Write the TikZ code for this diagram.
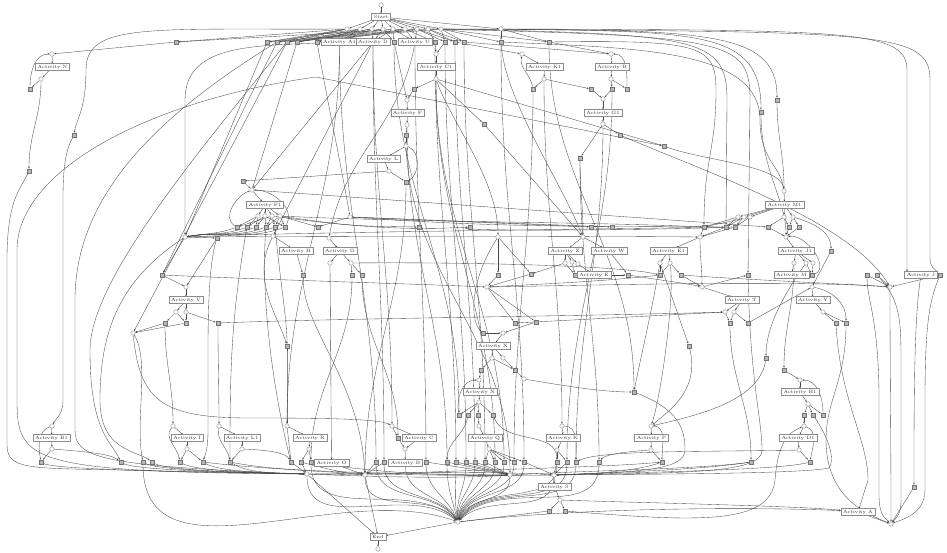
\documentclass[tikz,border=0pt]{standalone}
\usetikzlibrary{arrows.meta}
\pgfdeclarelayer{bg}
\pgfsetlayers{bg,main}
\begin{document}
\begin{tikzpicture}[x=1pt,y=-1pt,
  pl/.style={circle,draw=black!55,fill=white,line width=0.3pt,minimum size=4.4pt,inner sep=0pt},
  si/.style={rectangle,draw=black!55,fill=black!28,line width=0.3pt,minimum size=4.4pt,inner sep=0pt},
  ac/.style={rectangle,draw=black!45,fill=white,line width=0.25pt,text=black!80,font=\fontsize{4.7}{5}\selectfont,inner xsep=2.3pt,inner ysep=0.8pt,minimum height=6.8pt},
  e/.style={draw=black!72,line width=0.34pt,-{Stealth[length=2pt,width=1.6pt]}},
  dn/.style={e,out=-90,in=90},
]
\useasboundingbox (0,0) rectangle (947,552);
% ---------------- nodes: top
\node[pl] (src) at (381,5) {};
\node[ac] (start) at (381,17) {Start};
\foreach \n/\x in {q1/347,q2/360,q3/372,q4/383,q5/393,q6/405,q7/417,q8/428,q9/441}
  \node[pl] (\n) at (\x,29) {};
\node[pl] (qr) at (501,29) {};
\foreach \n/\x in {ta1/176,ta2/267,ta3/277,ta4/287,ta5/297,ta6/317,ta7/394,ta8/435,ta9/445,ta10/455,ta11/464,ta12/501,ta13/549}
  \node[si] (\n) at (\x,42) {};
\node[ac] (A1) at (339.5,42) {Activity A1};
\node[ac] (D) at (373,42) {Activity D};
\node[ac] (U) at (415,42) {Activity U};
% N
\node[pl] (pN) at (52,54) {};
\node[ac] (N) at (52.5,67) {Activity N};
\node[pl] (pN2) at (41,79) {};
\node[si] (sN1) at (30,89) {};
\node[si] (sN2) at (29,171) {};
\node[si] (sL1) at (74,135) {};
% C1 chain
\node[pl] (pC1) at (436,54) {};
\node[ac] (C1) at (436,67) {Activity C1};
\node[pl] (pC1b) at (436,79) {};
\node[si] (sC1a) at (414,89) {};
\node[pl] (pF) at (407,100) {};
\node[ac] (F) at (407.5,113) {Activity F};
\node[pl] (pF2) at (407,125) {};
\node[si] (sF) at (406,135) {};
\node[pl] (pL) at (406,146) {};
\node[ac] (L) at (383.5,159) {Activity L};
\node[pl] (pL2) at (389,171) {};
\node[si] (sL) at (406,182) {};
\node[si] (sC1b) at (484,124) {};
% K1, B, G1
\node[pl] (pK1) at (522,54) {};
\node[ac] (K1) at (544.5,67) {Activity K1};
\node[pl] (pK1b) at (544,79) {};
\node[si] (sK1a) at (533,89) {};
\node[si] (sK1b) at (591,89) {};
\node[pl] (pB) at (611,54) {};
\node[ac] (B) at (612,67) {Activity B};
\node[pl] (pB2) at (611,79) {};
\node[si] (sBa) at (612,89) {};
\node[si] (sBb) at (627,89) {};
\node[pl] (pG1) at (603,99) {};
\node[ac] (G1) at (603,113) {Activity G1};
\node[pl] (pG1b) at (603,124) {};
\node[si] (sG1) at (620,135) {};
\node[si] (sG1b) at (580,158) {};
\node[si] (sR1) at (664,146) {};
\node[si] (sR2) at (761,112) {};
\node[si] (sR3) at (777,100) {};
\node[si] (sX1) at (243,181) {};
% F1
\node[pl] (pF1) at (252,190) {};
\node[ac] (F1) at (265,205) {Activity F1};
\foreach \n/\x in {pF1a/258,pF1b/265,pF1c/272,pF1d/280} \node[pl] (\n) at (\x,216) {};
\foreach \n/\x in {sf1/237,sf2/247,sf3/256,sf4/266,sf5/275,sf6/285} \node[si] (\n) at (\x,227) {};
\node[pl] (hA) at (185,237) {};
\node[si] (sV0) at (217,238) {};
\node[si] (sV1) at (162,275) {};
\node[pl] (pV) at (186,287) {};
\node[ac] (V) at (186,300) {Activity V};
\node[pl] (pVa) at (176,312) {};
\node[pl] (pVb) at (186,312) {};
\node[si] (sVa) at (165,323) {};
\node[si] (sVb) at (186,323) {};
\node[si] (sVc) at (218,323) {};
\node[pl] (hB) at (133,333) {};
\node[si] (sH2) at (287,346) {};
\node[pl] (pH) at (273,236) {};
\node[ac] (H) at (296,251) {Activity H};
\node[si] (sH) at (303,275) {};
% G, Z, X
\node[pl] (pG) at (329,238) {};
\node[ac] (G) at (340,251) {Activity G};
\node[pl] (pGa) at (330,263) {};
\node[pl] (pGb) at (351,263) {};
\node[si] (sGa) at (352,275) {};
\node[si] (sGb) at (362,275) {};
\node[pl] (hN) at (350,217) {};
\node[si] (sM0) at (318,227) {};
\node[si] (sM1) at (419,227) {};
\node[si] (sM2) at (470,227) {};
\node[si] (sM3) at (591,227) {};
\node[si] (sM4) at (612,227) {};
\node[pl] (hL) at (498,237) {};
\node[pl] (pZ) at (583,237) {};
\node[ac] (Z) at (565,251) {Activity Z};
\node[ac] (W) at (609,251) {Activity W};
\node[pl] (pZa) at (565,263) {};
\node[pl] (pZb) at (572,262) {};
\node[pl] (pZc) at (578,264) {};
\node[si] (sZ) at (575,275) {};
\node[ac] (E) at (594,275) {Activity E};
\node[si] (sM5) at (498,275) {};
\node[si] (sM6) at (531,274) {};
\node[si] (sM7) at (628,275) {};
\node[pl] (hJ) at (487,287) {};
\node[si] (sM8) at (515,323) {};
\node[si] (sM9) at (536,322) {};
\node[si] (sX0) at (483,333) {};
\node[pl] (pX) at (503,333) {};
\node[ac] (X) at (493,346) {Activity X};
\node[pl] (pXa) at (492,358) {};
\node[pl] (pXb) at (503,358) {};
% right middle
\node[pl] (pM1) at (784,191) {};
\node[ac] (M1) at (784.5,205) {Activity M1};
\foreach \n/\x in {pMa/738,pMb/744,pMc/750,pMd/784,pMe/793} \node[pl] (\n) at (\x,217) {};
\foreach \n/\x in {sMa/704,sMb/726,sMc/735,sMd/768,sMe/789,sMf/799} \node[si] (\n) at (\x,227) {};
\node[pl] (pJ1) at (786,237) {};
\node[ac] (J1) at (796,251) {Activity J1};
\node[pl] (pJ1a) at (794,263) {};
\node[pl] (pJ1b) at (806,263) {};
\node[pl] (pJ1c) at (813,263) {};
\node[si] (sJ1) at (812,275) {};
\node[ac] (M) at (791.5,275) {Activity M};
\node[pl] (hM) at (700,237) {};
\node[si] (sR4) at (831,251) {};
\node[ac] (E1) at (668.5,251) {Activity E1};
\node[pl] (pE1a) at (660,263) {};
\node[pl] (pE1b) at (670,263) {};
\node[si] (sE1a) at (660,275) {};
\node[si] (sE1b) at (681,275) {};
\node[pl] (hI) at (702,287) {};
\node[si] (sR5) at (748,275) {};
\node[si] (sR6) at (867,275) {};
\node[si] (sR7) at (877,275) {};
\node[ac] (J) at (921,275) {Activity J};
\node[si] (sR8) at (940,275) {};
\node[pl] (hK) at (890,287) {};
\node[pl] (pY) at (812,287) {};
\node[ac] (Y) at (813,300) {Activity Y};
\node[pl] (pYa) at (823,312) {};
\node[si] (sYa) at (836,323) {};
\node[si] (sYb) at (846,323) {};
\node[ac] (T) at (742,300) {Activity T};
\node[pl] (pTa) at (725,312) {};
\node[pl] (pTb) at (734,312) {};
\node[si] (sTa) at (730,323) {};
\node[si] (sTb) at (748,323) {};
\node[si] (sR9) at (689,346) {};
\node[si] (sR10) at (766,358) {};
% lower middle
\node[si] (sXa) at (481,370) {};
\node[si] (sXb) at (515,370) {};
\node[pl] (pXc) at (524,379) {};
\node[pl] (pNn) at (479,380) {};
\node[ac] (Nn) at (480,392) {Activity N};
\node[pl] (pNn2) at (479,402) {};
\foreach \n/\x in {sNa/459,sNb/468,sNc/478,sNd/493} \node[si] (\n) at (\x,415) {};
\node[pl] (pQ) at (479,426) {};
\node[ac] (Q) at (485,438) {Activity Q};
\node[pl] (pQ2) at (489,449) {};
\node[pl] (pK) at (562,426) {};
\node[ac] (K) at (563,438) {Activity K};
\node[pl] (pK2) at (557,450) {};
\node[pl] (pC) at (392,426) {};
\node[si] (sC) at (398,438) {};
\node[ac] (C) at (419,438) {Activity C};
\node[pl] (pC2) at (405,449) {};
\node[ac] (Bb) at (405.5,463) {Activity B};
\node[ac] (O) at (331.5,463) {Activity O};
% bottom left
\node[pl] (pB1) at (52,426) {};
\node[ac] (B1) at (51.5,438) {Activity B1};
\node[pl] (pB1b) at (52,449) {};
\node[si] (sB1) at (41,462) {};
\node[si] (sLw1) at (121,462) {};
\node[si] (sLw2) at (143,462) {};
\node[si] (sLw3) at (152,462) {};
\node[pl] (pI) at (173,426) {};
\node[ac] (I) at (187,438) {Activity I};
\node[pl] (pI2) at (187,449) {};
\node[si] (sIa) at (180,462) {};
\node[si] (sIb) at (203,462) {};
\node[pl] (pL1) at (219,426) {};
\node[ac] (L1) at (242,438) {Activity L1};
\node[pl] (pL1b) at (242,449) {};
\node[si] (sL1a) at (230,462) {};
\node[pl] (pR) at (287,426) {};
\node[ac] (R) at (310,438) {Activity R};
\node[pl] (pR2) at (309,449) {};
\node[si] (sRa) at (291,462) {};
\node[si] (sRb) at (301,462) {};
\node[si] (sRc) at (311,462) {};
\node[pl] (hC) at (307,474) {};
\foreach \n/\x in {sb1/376,sb2/384,sb3/426,sb4/447,sb5/456,sb6/466,sb7/475,sb8/485,sb9/495,sb10/504,sb11/514,sb12/524,sb13/557,sb14/567,sb15/576,sb16/599}
  \node[si] (\n) at (\x,462) {};
\node[pl] (hD) at (365,475) {};
\node[pl] (hE) at (510,475) {};
\node[pl] (hF) at (554,475) {};
\node[ac] (S) at (554.5,487) {Activity S};
\node[pl] (pS) at (560,500) {};
\node[si] (sSa) at (549,511) {};
\node[si] (sSb) at (565,511) {};
\node[pl] (hG) at (458,522) {};
\node[ac] (End) at (378,537) {End};
\node[pl] (sink) at (378,549) {};
% right bottom
\node[si] (sR11) at (784,370) {};
\node[pl] (pH1) at (800,380) {};
\node[ac] (H1) at (800,392) {Activity H1};
\node[pl] (pH1b) at (808,404) {};
\node[si] (sH1a) at (804,415) {};
\node[si] (sH1b) at (813,415) {};
\node[si] (sH1c) at (823,415) {};
\node[pl] (pD1) at (804,426) {};
\node[ac] (D1) at (798,438) {Activity D1};
\node[pl] (pD1b) at (799,450) {};
\node[si] (sD1) at (810,462) {};
\node[si] (sR12) at (634,392) {};
\node[pl] (pP) at (651,426) {};
\node[ac] (P) at (651.5,438) {Activity P};
\node[pl] (pP2) at (651,450) {};
\node[si] (sP) at (662,462) {};
\node[si] (sR13) at (751,462) {};
\node[si] (sR14) at (914,487) {};
\node[ac] (Aa) at (858,512) {Activity A};
\node[pl] (hH) at (891,524) {};

\begin{pgfonlayer}{bg}
% ---------- top fan
\draw[e] (src) -- (start);
\foreach \t in {q1,q2,q3,q4,q5,q6,q7,q8,q9,qr} \draw[e] (start) -- (\t);
\foreach \a/\b in {q1/ta1,q1/ta2,q1/ta3,q1/ta4,q2/ta2,q2/ta5,q2/A1,q2/ta6,q3/ta3,q3/A1,q3/D,q4/D,q4/ta4,q4/ta7,q5/D,q5/ta7,q5/ta5,q5/U,q6/U,q6/ta6,q6/ta8,q7/U,q7/ta9,q7/ta10,q7/ta2,q8/ta10,q8/ta11,q8/ta3,q8/ta8,q9/ta11,q9/ta12,q9/ta13,q9/ta4,q9/ta9,qr/ta12,qr/ta13,q6/ta1,q4/ta5,q3/ta5,q7/ta6}
  \draw[e] (\a) -- (\b);
% long top-right lines
\draw[e] (q9) .. controls (700,30) and (777,28) .. (sR3);
\draw[e] (qr) .. controls (700,32) and (761,30) .. (sR2);
\draw[e] (qr) .. controls (850,30) and (907,30) .. (907,70) -- ([xshift=-14pt]J.north);
\draw[e] (q8) .. controls (880,32) and (930,30) .. (930,80) -- (930,258) .. controls (930,268) and (936,270) .. (sR8);
\draw[e] (ta13) .. controls (700,40) and (716,45) .. (716,90) .. controls (716,150) and (704,160) .. (sMa);
\draw[e] (q9) .. controls (700,34) and (727,38) .. (727,100) -- (sMb);
\draw[e] (q8) .. controls (730,36) and (750,40) .. (750,100) -- (sR5);
\draw[e] (ta12) .. controls (640,48) and (760,50) .. (760,120) .. controls (760,160) and (780,165) .. (pM1);
% ---------- N block and far left
\draw[e] (ta1) -- (pN);
\draw[e] (pN) -- (N);
\draw[e] (N) -- (pN2);
\draw[e] (pN2) -- (sN1);
\draw[e] (sN1) to[out=90,in=180] (pN);
\draw[e] (pN2) to[out=-90,in=90] (sN2);
\draw[e] (sN2) .. controls (20,190) and (7,200) .. (7,260) -- (7,445) .. controls (7,470) and (30,468) .. (120,470) -- (hC);
\draw[e] (q1) .. controls (150,30) and (86,22) .. (86,70) .. controls (86,110) and (76,120) .. (sL1);
\draw[e] (sL1) .. controls (66,150) and (63,165) .. (63,200) -- (63,400) .. controls (63,415) and (56,418) .. (pB1);
\draw[e] (hC) .. controls (30,472) and (17,462) .. (17,400) -- (17,250) .. controls (17,170) and (150,100) .. (316,77) -- (sR1);
\draw[e] (ta3) .. controls (150,120) and (75,200) .. (75,300) -- (75,430) .. controls (75,458) and (100,466) .. (hC);
\draw[e] (A1) .. controls (250,46) and (185,45) .. (185,100) -- (hA);
% ---------- top rows to mid
\draw[e] (ta2) -- (hA);
\draw[e] (ta3) -- (sV1);
\draw[e] (ta4) -- (hB);
\draw[e] (ta4) .. controls (200,150) and (90,280) .. (90,350) .. controls (90,430) and (110,440) .. (sLw1);
\draw[e] (ta5) -- (pF1);
\draw[e] (D) -- (pF1);
\draw[e] (D) -- (pH);
\draw[e] (ta6) to[out=-80,in=100] (hN);
\draw[e] (U) to[out=-100,in=80] (pG);
\draw[e] (ta7) -- (pF);
\draw[e] (ta8) -- (pC1);
\draw[e] (ta9) -- (pC1);
\draw[e] (ta10) -- (pK1);
\draw[e] (ta11) -- (pB);
\draw[e] (ta13) -- (pB);
\draw[e] (ta12) .. controls (505,100) and (560,180) .. (pZ);
% ---------- C1 chain
\draw[e] (pC1) -- (C1);
\draw[e] (C1) -- (pC1b);
\draw[e] (pC1b) -- (sC1a);
\draw[e] (sC1a) -- (pF);
\draw[e] (pF) -- (F);
\draw[e] (F) -- (pF2);
\draw[e] (pF2) -- (sF);
\draw[e] (sF) -- (pL);
\draw[e] (pL) -- (L);
\draw[e] (L) -- (pL2);
\draw[e] (pL2) -- (sL);
\draw[e] (pL) to[out=-20,in=30] (sL);
\draw[e] (pL2) -- (sX1);
\draw[e] (sX1) -- (pF1);
\draw[e] (pC1b) -- (sC1b);
\draw[e] (sC1b) -- (pZ);
\draw[e] (pC1b) -- (sR1);
\draw[e] (pC1b) .. controls (450,120) and (498,180) .. (hL);
\draw[e] (sR1) .. controls (700,160) and (780,165) .. (pM1);
\draw[e] (sR3) to[out=-90,in=90] (pM1);
\draw[e] (sR2) .. controls (761,170) and (786,200) .. (pJ1);
% ---------- K1, B, G1
\draw[e] (pK1) -- (K1);
\draw[e] (K1) -- (pK1b);
\draw[e] (pK1b) -- (sK1a);
\draw[e] (pK1b) -- (sK1b);
\draw[e] (sK1a) to[out=100,in=-100] (pK1);
\draw[e] (sK1b) -- (pG1);
\draw[e] (pB) -- (B);
\draw[e] (B) -- (pB2);
\draw[e] (pB2) -- (sBa);
\draw[e] (pB2) -- (sBb);
\draw[e] (sBb) to[out=90,in=0] (pB);
\draw[e] (sBa) -- (pG1);
\draw[e] (pG1) -- (G1);
\draw[e] (G1) -- (pG1b);
\draw[e] (pG1b) -- (sG1);
\draw[e] (pG1b) -- (sG1b);
\draw[e] (sG1) .. controls (700,170) and (850,220) .. (hK);
\draw[e] (sG1b) to[out=-90,in=90] (pZ);
% ---------- long verticals top -> bottom
\draw[dn] (A1) to (pR);
\draw[dn] (A1) to (sb1);
\draw[dn] (D) to (sb2);
\draw[dn] (D) to (pC);
\draw[dn] (U) to (sb3);
\draw[dn] (pF2) to (sb4);
\draw[dn] (ta8) to (sb5);
\draw[dn] (ta9) to (sb6);
\draw[dn] (ta10) to (sb7);
\draw[dn] (ta11) to (sb8);
\draw[dn] (pC1b) to (sb9);
\draw[dn] (pC1b) to (sb10);
\draw[dn] (sK1a) to (sb11);
\draw[dn] (ta12) to (sb12);
\draw[dn] (pK1b) to (pK);
\draw[dn] (sBa) to (sb14);
\draw[dn] (pG1b) to (sb15);
\draw[dn] (sG1b) to (sb16);
\draw[dn] (ta13) to (sR12);
\draw[dn] (sL) to (hD);
\draw[dn] (sF) to (hE);
\draw[dn] (ta7) to (sNa);
% ---------- F1
\draw[e] (pF1) -- (F1);
\foreach \t in {pF1a,pF1b,pF1c,pF1d} \draw[e] (F1) -- (\t);
\foreach \a/\b in {pF1a/sf1,pF1a/sf2,pF1a/sf3,pF1b/sf2,pF1b/sf3,pF1b/sf4,pF1c/sf4,pF1c/sf5,pF1c/sf1,pF1d/sf5,pF1d/sf6,pF1d/sf4,pF1b/sf6}
  \draw[e] (\a) -- (\b);
\foreach \s in {sf1,sf2,sf3,sf4,sf5,sf6} \draw[e] (\s) to[out=200,in=10] (hA);
\draw[e] (sf1) to[out=150,in=200] (pF1);
\draw[e] (sf6) to[out=60,in=0] (pF1);
\draw[e] (pF1d) .. controls (400,222) and (600,222) .. (sMa);
\draw[e] (pF1d) .. controls (350,226) .. (sM1);
\draw[e] (pF1c) .. controls (380,231) and (430,229) .. (sM2);
\draw[e] (hN) -- (sM3);
\draw[e] (hN) -- (sM4);
\draw[e] (hN) -- (sM0);
\draw[e] (pF1d) -- (sM0);
\draw[e] (hA) .. controls (300,232) and (550,230) .. (sMb);
\draw[e] (hA) .. controls (300,236) and (600,236) .. (hM);
\draw[e] (pF1) -- (sMd);
\draw[e] (sf2) to[out=-100,in=90] (sL1a);
\draw[e] (sf4) .. controls (260,300) and (275,400) .. (sRa);
\draw[e] (sf5) .. controls (280,280) and (287,320) .. (sH2);
% ---------- V
\draw[e] (hA) -- (sV0);
\draw[e] (sV0) -- (pV);
\draw[e] (hA) -- (sV1);
\draw[e] (sV1) -- (pV);
\draw[e] (pV) -- (V);
\draw[e] (V) -- (pVa);
\draw[e] (V) -- (pVb);
\draw[e] (pVa) -- (sVa);
\draw[e] (pVa) -- (sVb);
\draw[e] (pVb) -- (sVb);
\draw[e] (pVb) -- (sVc);
\draw[e] (sVa) -- (hB);
\draw[e] (sVb) -- (hB);
\draw[e] (hB) .. controls (150,360) and (135,420) .. (sLw2);
\draw[e] (hB) .. controls (140,400) and (160,418) .. (250,418) .. controls (330,418) and (380,419) .. (pC);
\draw[e] (hA) .. controls (120,280) and (100,330) .. (100,400) .. controls (100,450) and (135,450) .. (sLw3);
\draw[e] (sVa) to[out=-90,in=90] (pI);
\draw[e] (sVc) to[out=-90,in=90] (pL1);
\draw[e] (sV0) .. controls (210,260) and (208,300) .. (208,350) -- (208,430) .. controls (208,450) and (205,455) .. (sIb);
\draw[e] (sVc) .. controls (350,318) and (600,316) .. (pTa);
\draw[e] (sV1) .. controls (300,281) and (420,284) .. (hJ);
% ---------- H, G
\draw[e] (pH) -- (H);
\draw[e] (H) -- (sH);
\draw[e] (pH) .. controls (250,280) and (280,320) .. (sH2);
\draw[e] (sH2) to[out=-90,in=90] (pR);
\draw[e] (sH) .. controls (303,330) and (360,380) .. (hD);
\draw[e] (pG) -- (G);
\draw[e] (G) -- (pGa);
\draw[e] (G) -- (pGb);
\draw[e] (pGb) -- (sGa);
\draw[e] (pGb) -- (sGb);
\draw[e] (pGa) -- (O);
\draw[dn] (sGa) to (sRc);
\draw[dn] (sGb) to (sC);
\draw[e] (pGb) .. controls (450,262) and (620,265) .. (sE1a);
% ---------- Z, hJ, X
\draw[e] (pZ) -- (Z);
\draw[e] (pZ) -- (W);
\draw[e] (Z) -- (pZa);
\draw[e] (Z) -- (pZb);
\draw[e] (Z) -- (pZc);
\draw[e] (pZa) -- (sM6);
\draw[e] (pZa) -- (sZ);
\draw[e] (pZb) -- (sZ);
\draw[e] (pZc) -- (E);
\draw[e] (W) -- (sM7);
\draw[e] (E) -- (sM7);
\draw[e] (sM7) .. controls (660,280) and (690,284) .. (hI);
\draw[e] (sM6) -- (hJ);
\draw[e] (sM5) -- (hJ);
\draw[e] (hL) -- (sM5);
\draw[e] (hL) -- (sM6);
\draw[e] (hL) .. controls (470,280) and (470,320) .. (sX0);
\draw[e] (hJ) .. controls (600,285) and (800,280) .. (hK);
\draw[e] (hJ) -- (sM8);
\draw[e] (hJ) -- (sM9);
\draw[e] (sM9) -- (pX);
\draw[e] (sX0) -- (pX);
\draw[e] (pX) -- (X);
\draw[e] (X) -- (pXa);
\draw[e] (X) -- (pXb);
\draw[e] (pXa) -- (sXa);
\draw[e] (pXb) -- (sXb);
\draw[e] (pXa) -- (sXb);
\draw[e] (sXa) -- (pNn);
\draw[e] (sXb) -- (pXc);
\draw[e] (sM8) -- (pTa);
% ---------- N (lower), Q, K, C
\draw[e] (pNn) -- (Nn);
\draw[e] (Nn) -- (pNn2);
\foreach \s in {sNa,sNb,sNc,sNd} \draw[e] (pNn2) -- (\s);
\draw[e] (sNa) to[out=100,in=180] (pNn);
\draw[e] (sNc) -- (pQ);
\draw[e] (pQ) -- (Q);
\draw[e] (Q) -- (pQ2);
\foreach \s in {sb8,sb9,sb10,sb11,sb12} \draw[e] (pQ2) -- (\s);
\draw[e] (sNb) to[out=-100,in=90] (sb4);
\draw[e] (sNd) to[out=-70,in=90] (sb13);
\draw[e] (pXc) .. controls (560,385) and (600,392) .. (sR12);
\draw[e] (pK) -- (K);
\draw[e] (K) -- (pK2);
\draw[e] (pK2) -- (sb13);
\draw[e] (pK2) -- (sb14);
\draw[e] (pK) to[out=0,in=90] (sb15);
\draw[e] (pC) -- (sC);
\draw[e] (pC) -- (C);
\draw[e] (C) -- (pC2);
\draw[e] (sC) -- (pC2);
\draw[e] (pC2) -- (Bb);
\draw[e] (O) -- (hD);
% ---------- bottom left
\draw[e] (pB1) -- (B1);
\draw[e] (B1) -- (pB1b);
\draw[e] (pB1b) -- (sB1);
\draw[e] (pB1) to[out=200,in=100] (sB1);
\draw[e] (pB1b) .. controls (90,452) and (110,454) .. (sLw1);
\draw[e] (pI) -- (I);
\draw[e] (I) -- (pI2);
\draw[e] (pI2) -- (sIa);
\draw[e] (pI2) -- (sIb);
\draw[e] (pI) to[out=230,in=100] (sIa);
\draw[e] (pL1) -- (L1);
\draw[e] (L1) -- (pL1b);
\draw[e] (pL1b) -- (sL1a);
\draw[e] (pL1) to[out=-100,in=100] (sL1a);
\draw[e] (pL1b) .. controls (265,450) and (285,452) .. (sRa);
\draw[e] (pR) -- (R);
\draw[e] (R) -- (pR2);
\draw[e] (pR2) -- (sRb);
\draw[e] (pR2) -- (sRc);
\draw[e] (pR) -- (sRa);
\foreach \s/\x in {sB1/41,sLw1/121,sLw2/143,sLw3/152,sIa/180,sIb/203,sL1a/230}
  \draw[e] (\s) .. controls (\x+15,471) and (260,473) .. (hC);
\draw[e] (sRa) -- (hC);
\draw[e] (sRb) -- (hC);
% hub band
\draw[e] (hC) -- (hD);
\draw[e] (hC) .. controls (400,478) and (470,478) .. (hE);
\draw[e] (hC) .. controls (400,473) and (500,471) .. (hF);
\draw[e] (sRb) .. controls (330,470) and (350,474) .. (hD);
\draw[e] (sRc) .. controls (380,474) and (460,476) .. (hE);
\draw[e] (sIb) .. controls (300,474) and (450,474) .. (hE);
\draw[e] (sL1a) .. controls (300,476) and (480,476) .. (hF);
\draw[e] (sb1) -- (hD);
\draw[e] (sb2) -- (hD);
\foreach \s in {sb3,sb4,sb5,sb6,sb7,sb8} \draw[e] (\s) -- (hE);
\foreach \s in {sb12,sb13,sb14} \draw[e] (\s) -- (hF);
\draw[e] (hD) .. controls (450,470) and (600,468) .. (sP);
\draw[e] (hE) .. controls (600,470) and (700,469) .. (sR13);
% fan into hG
\foreach \s/\a in {sRc/135,hC/140,sb1/125,sb2/122,Bb/118,sb3/112,sb4/105,sb5/100,sb6/96,sb7/93,sb8/88,sb9/84,sb10/80,sb11/76,sb12/72,sb13/62,sb14/58,sb15/54,sb16/50,hD/130,hE/70,hF/45,sLw2/160}
  \draw[e] (\s) to[out=-90,in=\a] (hG);
\draw[e] (hG) -- (End);
\draw[e] (hC) -- (End);
\draw[e] (hD) -- (End);
\draw[e] (End) -- (sink);
% S
\draw[e] (hF) -- (S);
\draw[e] (S) -- (pS);
\draw[e] (pS) -- (sSa);
\draw[e] (pS) -- (sSb);
\draw[e] (sSa) -- (hG);
\draw[e] (pS) .. controls (650,503) and (800,506) .. (Aa);
\draw[e] (sSb) .. controls (700,522) and (770,525) .. (775,480) .. controls (778,440) and (790,432) .. (pD1);
% ---------- right middle
\draw[e] (pM1) -- (M1);
\foreach \t in {pMa,pMb,pMc,pMd,pMe} \draw[e] (M1) -- (\t);
\foreach \a/\b in {pMa/sMa,pMa/sMb,pMb/sMb,pMb/sMc,pMc/sMc,pMc/sMa,pMd/sMd,pMd/sMe,pMe/sMe,pMe/sMf}
  \draw[e] (\a) -- (\b);
\draw[e] (pMe) .. controls (820,225) and (831,235) .. (sR4);
\draw[e] (sMd) -- (pJ1);
\draw[e] (sMe) -- (pJ1);
\draw[e] (sMf) -- (pJ1);
\draw[e] (sMb) .. controls (600,226) and (500,228) .. (hN);
\draw[e] (sMc) .. controls (620,231) and (450,231) .. (sM2);
\draw[e] (pJ1) -- (J1);
\draw[e] (J1) -- (pJ1a);
\draw[e] (J1) -- (pJ1b);
\draw[e] (J1) -- (pJ1c);
\draw[e] (pJ1a) -- (M);
\draw[e] (pJ1b) -- (sJ1);
\draw[e] (pJ1c) -- (sJ1);
\draw[e] (sJ1) to[out=20,in=10] (pJ1);
\draw[e] (sMa) -- (hM);
\draw[e] (sMb) -- (hM);
\draw[e] (sMc) -- (hM);
\draw[e] (hM) -- (E1);
\draw[e] (E1) -- (pE1a);
\draw[e] (E1) -- (pE1b);
\draw[e] (pE1a) -- (sE1a);
\draw[e] (pE1b) -- (sE1a);
\draw[e] (pE1b) -- (sE1b);
\draw[e] (sE1a) .. controls (600,282) and (520,285) .. (hJ);
\draw[e] (sE1b) -- (hI);
\draw[e] (sE1b) .. controls (750,280) and (850,284) .. (hK);
\draw[e] (hM) to[out=-90,in=90] (hI);
\draw[e] (pE1a) .. controls (650,320) and (640,360) .. (sR12);
\draw[e] (pE1b) .. controls (675,300) and (660,400) .. (pP);
\draw[e] (pE1a) -- (sR9);
\draw[e] (hI) -- (T);
\draw[e] (hI) -- (sR5);
\draw[e] (T) -- (pTa);
\draw[e] (T) -- (pTb);
\draw[e] (pTa) -- (sTa);
\draw[e] (pTb) -- (sTa);
\draw[e] (pTb) -- (sTb);
\draw[e] (sTb) -- (pY);
\draw[e] (sR4) -- (pY);
\draw[e] (pY) -- (Y);
\draw[e] (Y) -- (pYa);
\draw[e] (pYa) -- (sYa);
\draw[e] (pYa) -- (sYb);
\draw[e] (pY) to[out=-10,in=90] (sYb);
\draw[e] (sR6) -- (hK);
\draw[e] (sR7) -- (hK);
\draw[e] (sR8) -- (hK);
\draw[e] (hK) to[out=-90,in=90] (hH);
\draw[e] (sR6) .. controls (867,300) and (879,320) .. (879,400) -- (879,495) .. controls (879,515) and (885,518) .. (hH);
\draw[e] (sR7) .. controls (900,300) and (901,320) .. (901,360) -- (901,500) .. controls (901,515) and (896,518) .. (hH);
\draw[e] (J) .. controls (914,320) and (914,400) .. (sR14);
\draw[e] (sR14) -- (hH);
\draw[e] (sR8) .. controls (930,300) and (925,320) .. (925,400) -- (925,490) .. controls (925,515) and (900,520) .. (hH);
\draw[e] (Aa) -- (hH);
\draw[e] (hG) .. controls (600,505) and (800,508) .. (Aa);
\draw[e] (sYb) .. controls (846,380) and (826,400) .. (826,440) .. controls (826,500) and (870,515) .. (hH);
\draw[e] (sYa) .. controls (840,400) and (868,440) .. (868,480) -- (Aa);
\draw[dn] (sTa) to (sR13);
\draw[e] (sR5) .. controls (750,380) and (762,420) .. (762,450) .. controls (762,472) and (700,473) .. (hF);
\draw[e] (pJ1b) .. controls (780,300) and (766,330) .. (sR10);
\draw[e] (sR10) .. controls (760,400) and (700,415) .. (pP);
\draw[e] (sR9) .. controls (700,390) and (670,410) .. (pP);
\draw[dn] (pJ1a) to (sR11);
% ---------- right bottom
\draw[e] (sR11) -- (pH1);
\draw[e] (pH1) -- (H1);
\draw[e] (H1) -- (pH1b);
\draw[e] (pH1b) -- (sH1a);
\draw[e] (pH1b) -- (sH1b);
\draw[e] (pH1b) -- (sH1c);
\draw[e] (sH1c) to[out=90,in=0] (pH1);
\draw[e] (sH1a) -- (pD1);
\draw[e] (pD1) -- (D1);
\draw[e] (D1) -- (pD1b);
\draw[e] (pD1b) -- (sD1);
\draw[e] (pD1) to[out=-20,in=80] (sD1);
\draw[e] (sH1b) .. controls (830,440) and (835,460) .. (829,468) .. controls (800,474) and (650,474) .. (hF);
\draw[e] (sD1) .. controls (780,470) and (650,472) .. (hF);
\draw[e] (sR13) .. controls (700,470) and (620,472) .. (hF);
\draw[e] (pP) -- (P);
\draw[e] (P) -- (pP2);
\draw[e] (pP2) -- (sP);
\draw[e] (pP) to[out=0,in=90] (sP);
\draw[e] (sP) .. controls (640,470) and (600,474) .. (hF);
\draw[e] (pP2) .. controls (620,452) and (605,455) .. (sb16);
\draw[e] (pD1b) .. controls (700,452) and (600,450) .. (sb15);
\draw[e] (sR12) .. controls (680,410) and (685,430) .. (685,450) .. controls (685,470) and (640,472) .. (hF);
\end{pgfonlayer}
\end{tikzpicture}
\end{document}
